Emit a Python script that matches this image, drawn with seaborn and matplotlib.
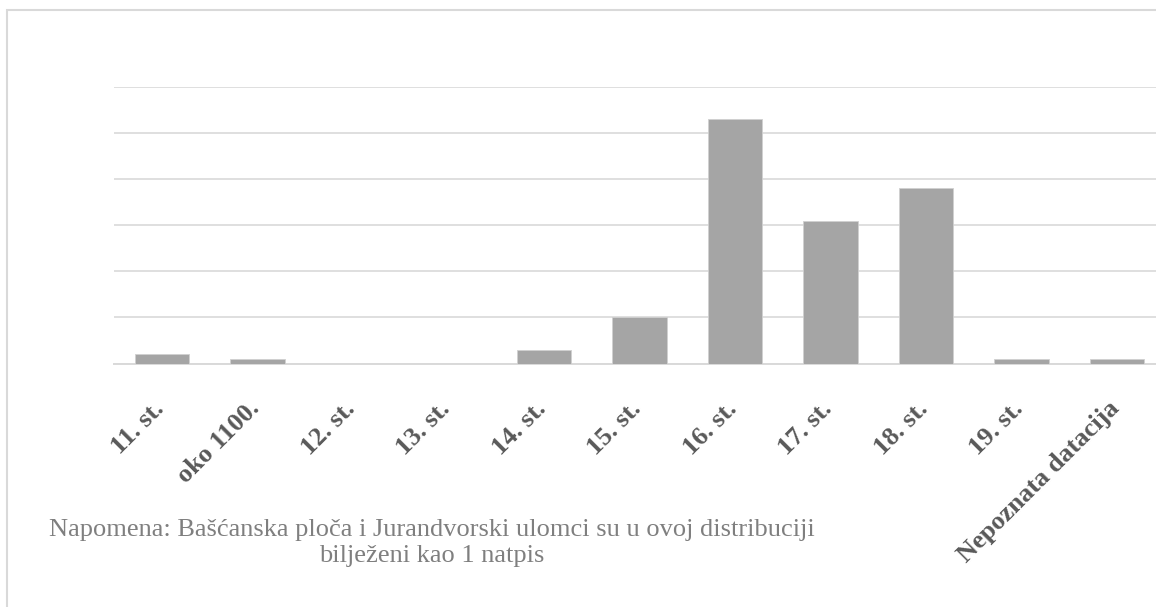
import matplotlib
matplotlib.use('Agg')
import matplotlib.pyplot as plt
import matplotlib.transforms as mtrans
import seaborn as sns
import pandas as pd
from matplotlib.patches import Rectangle

# Datos (numero de natpisa po razdoblju)
kategorije = ['11. st.', 'oko 1100.', '12. st.', '13. st.', '14. st.', '15. st.',
              '16. st.', '17. st.', '18. st.', '19. st.', 'Nepoznata datacija']
broj = [2, 1, 0, 0, 3, 10, 53, 31, 38, 1, 1]
napomena = ('Napomena: Bašćanska ploča i Jurandvorski ulomci su u ovoj distribuciji\n'
            'bilježeni kao 1 natpis')

df = pd.DataFrame({'razdoblje': kategorije, 'broj': broj})

sns.set_theme(style='white')
plt.rcParams['font.family'] = ['Liberation Serif', 'DejaVu Serif']

W, H = 1156, 607
fig = plt.figure(figsize=(W / 100, H / 100), dpi=100)
ax = fig.add_axes([114 / W, 1 - 363.5 / H, 1051 / W, 276.5 / H])

sns.barplot(data=df, x='razdoblje', y='broj', color='#a5a5a5', saturation=1,
            width=0.57, edgecolor='#d0d0d0', linewidth=0.6, ax=ax, zorder=3)

ax.set_ylim(0, 60)
ax.set_yticks(range(0, 61, 10))
ax.yaxis.grid(True, color='#d9d9d9', linewidth=1.2, zorder=0)
ax.set_yticklabels([])
ax.tick_params(axis='y', length=0)
ax.set_xlim(-0.5, len(kategorije) - 0.5)
for s in ['top', 'right', 'left']:
    ax.spines[s].set_visible(False)
ax.spines['bottom'].set_color('#d9d9d9')
ax.spines['bottom'].set_linewidth(1.4)
ax.set_xlabel('')
ax.set_ylabel('')

# oznake kategorija pod 45 stupnjeva
ax.tick_params(axis='x', length=0, pad=24)
ax.set_xticks(range(len(kategorije)))
ax.set_xticklabels(kategorije, rotation=45, ha='right', rotation_mode='anchor',
                   fontsize=19, fontweight='bold', color='#595959')
pomak = mtrans.ScaledTranslation(-0.1, 0, fig.dpi_scale_trans)
for lbl in ax.get_xticklabels():
    lbl.set_transform(lbl.get_transform() + pomak)

# okvir grafikona
fig.patches.append(Rectangle((7 / W, -0.1), 1.2, (H - 10) / H + 0.1,
                             transform=fig.transFigure, fill=False,
                             edgecolor='#d9d9d9', linewidth=1.5))

fig.text(432 / W, 1 - 543 / H, napomena, ha='center', va='center',
         fontsize=19, color='#7f7f7f', linespacing=1.2)

fig.savefig('out.png', dpi=100, facecolor='white')
